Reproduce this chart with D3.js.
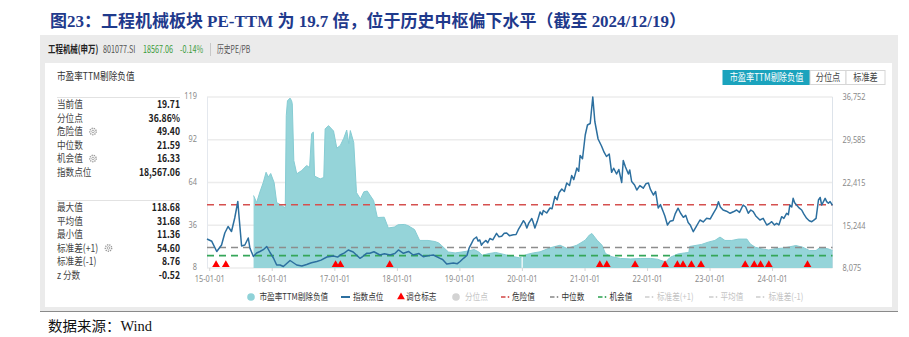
<!DOCTYPE html>
<html><head><meta charset="utf-8">
<script src="https://cdn.jsdelivr.net/npm/d3@7"></script>
<style>body{margin:0;background:#fff;} svg{display:block;font-family:"Noto Sans CJK SC","Noto Sans",sans-serif;}</style>
</head><body><svg id="c" width="909" height="337"></svg>
<script>
// ---------------- DATA ----------------
const titleText = "图23：工程机械板块 PE-TTM 为 19.7 倍，位于历史中枢偏下水平（截至 2024/12/19）";
const sourceText = "数据来源：Wind";
const headerName = "工程机械(申万)";
const headerCode = "801077.SI";
const headerPrice = "18567.06";
const headerChange = "-0.14%";
const headerLink = "历史PE/PB";
const panelTitle = "市盈率TTM剔除负值";
const buttonLabels = ["市盈率TTM剔除负值", "分位点", "标准差"];

const statLabels1 = ["当前值", "分位点", "危险值", "中位数", "机会值", "指数点位"];
const statValues1 = ["19.71", "36.86%", "49.40", "21.59", "16.33", "18,567.06"];
const statLabels2 = ["最大值", "平均值", "最小值", "标准差(+1)", "标准差(-1)", "z 分数"];
const statValues2 = ["118.68", "31.68", "11.36", "54.60", "8.76", "-0.52"];

const leftTickLabels = ["8", "36", "64", "92", "119"];
const rightTickLabels = ["8,075", "15,244", "22,415", "29,585", "36,752"];
const xTickDates = ["2015-01-01","2016-01-01","2017-01-01","2018-01-01","2019-01-01","2020-01-01","2021-01-01","2022-01-01","2023-01-01","2024-01-01"];
const xTickLabels = ["15-01-01","16-01-01","17-01-01","18-01-01","19-01-01","20-01-01","21-01-01","22-01-01","23-01-01","24-01-01"];

const dangerValue = 49.40;
const medianValue = 21.59;
const chanceValue = 16.33;

const indexDates = [
"2014-12-19","2015-01-16","2015-02-14","2015-03-14","2015-04-02","2015-04-21","2015-05-11","2015-05-30","2015-06-17","2015-06-25",
"2015-07-09","2015-07-28","2015-08-17","2015-08-27","2015-09-16","2015-10-05","2015-10-24","2015-11-13","2015-12-03","2015-12-22",
"2016-01-11","2016-01-30","2016-02-19","2016-03-09","2016-04-17","2016-05-26","2016-06-25","2016-07-23","2016-08-20","2016-09-20",
"2016-10-15","2016-11-18","2016-12-27","2017-01-20","2017-02-04","2017-03-01","2017-03-23","2017-04-21","2017-05-30","2017-06-15",
"2017-07-08","2017-07-27","2017-08-20","2017-09-24","2017-10-20","2017-11-22","2017-12-20","2018-01-10","2018-02-08","2018-03-10",
"2018-04-06","2018-05-10","2018-06-04","2018-07-05","2018-08-02","2018-09-10","2018-09-25","2018-10-19","2018-11-27","2018-12-20",
"2019-01-05","2019-01-25","2019-02-14","2019-02-28","2019-03-13","2019-03-25","2019-04-11","2019-04-20","2019-04-30","2019-05-10",
"2019-05-19","2019-06-05","2019-06-15","2019-06-28","2019-07-15","2019-08-06","2019-08-20","2019-09-05","2019-09-20","2019-10-04",
"2019-10-20","2019-11-12","2019-11-28","2019-12-11","2019-12-25","2020-01-10","2020-01-20","2020-01-30","2020-02-10","2020-02-28",
"2020-03-05","2020-03-17","2020-03-31","2020-04-16","2020-04-28","2020-05-05","2020-05-25","2020-06-13","2020-06-25","2020-07-12",
"2020-07-25","2020-08-05","2020-08-21","2020-09-05","2020-09-19","2020-10-05","2020-10-18","2020-10-30","2020-11-17","2020-11-28",
"2020-12-06","2020-12-20","2021-01-05","2021-01-18","2021-02-03","2021-02-18","2021-03-02","2021-03-21","2021-04-10","2021-04-25",
"2021-05-09","2021-05-25","2021-06-08","2021-06-20","2021-07-07","2021-07-20","2021-08-06","2021-08-15","2021-08-28","2021-09-14",
"2021-09-22","2021-10-03","2021-10-20","2021-11-02","2021-11-20","2021-12-10","2021-12-25","2022-01-09","2022-01-20","2022-02-07",
"2022-02-20","2022-03-07","2022-03-20","2022-04-05","2022-04-15","2022-04-30","2022-05-15","2022-06-02","2022-06-15","2022-07-01",
"2022-07-15","2022-08-01","2022-08-15","2022-08-29","2022-09-10","2022-09-28","2022-10-15","2022-11-06","2022-11-25","2022-12-15",
"2023-01-05","2023-01-23","2023-02-10","2023-02-22","2023-03-05","2023-03-21","2023-04-10","2023-05-01","2023-05-20","2023-06-08",
"2023-06-25","2023-07-16","2023-07-31","2023-08-15","2023-08-30","2023-09-13","2023-09-28","2023-10-22","2023-11-10","2023-12-01",
"2023-12-15","2023-12-30","2024-01-15","2024-01-28","2024-02-10","2024-02-26","2024-03-10","2024-03-26","2024-04-05","2024-04-14",
"2024-04-25","2024-05-03","2024-05-12","2024-05-23","2024-06-05","2024-06-22","2024-07-05","2024-07-21","2024-08-05","2024-08-20",
"2024-09-01","2024-09-14","2024-09-28","2024-10-08","2024-10-17","2024-11-06","2024-11-15","2024-11-25","2024-12-05","2024-12-19"];
const indexValues = [
12938,12553,10842,11932,13945,15035,14196,16460,19227,16410,
11764,11932,13106,11379,10004,10591,10842,11144,11681,10674,
9752,8578,8578,8327,9333,8578,8400,8662,8950,9165,
9400,9920,10087,9900,10255,10600,11094,10758,9702,10000,
10540,10540,10800,10255,10450,10255,10500,11094,10540,10850,
10255,10500,9970,10150,10255,9702,9500,8746,8914,8800,
9165,9700,10171,11500,12217,12900,13274,12600,12771,11900,
12268,12700,12300,13022,12800,13894,13300,13391,13900,13945,
13500,13659,13700,14498,15200,16007,15600,14783,15600,16376,
15900,14783,15900,17466,17000,17718,17300,18137,18000,20066,
19500,20700,21323,20900,22330,21900,23587,22900,24845,24300,
26941,26400,30379,32056,32308,36752,32643,29708,28534,27500,
26774,27200,24124,24800,23839,24600,22413,26103,25000,23839,
24500,22581,22000,21156,21900,21457,22200,22330,21300,20317,
20900,18137,18700,17550,16800,15286,15900,16041,17200,18103,
17300,16577,16900,15705,15300,14163,15000,16125,15800,16410,
16300,17248,18100,19194,18300,17802,17600,17248,17500,17802,
17400,18640,18300,17248,17800,17517,16800,16125,16400,15286,
15500,15840,15300,15571,15300,16678,16400,17248,17000,18640,
18300,19764,19000,18640,18200,17802,17100,16410,16000,15840,
16100,16410,19479,19900,18640,19764,19200,18925,19200,18567];

const peDates = ["2015-09-17","2015-10-05","2015-10-24","2015-11-13","2015-11-29","2015-12-12","2015-12-26","2016-01-15","2016-01-30","2016-02-29",
"2016-03-20","2016-03-26","2016-04-02","2016-04-17","2016-04-26","2016-04-30","2016-05-09","2016-05-26","2016-06-24","2016-07-23",
"2016-08-09","2016-08-21","2016-08-31","2016-09-07","2016-10-10","2016-10-31","2016-11-08","2016-11-28","2016-12-27","2017-01-15",
"2017-02-04","2017-02-24","2017-03-14","2017-03-26","2017-04-04","2017-04-24","2017-05-10","2017-06-02","2017-06-22","2017-07-12",
"2017-07-31","2017-08-18","2017-09-09","2017-10-19","2017-11-12","2017-12-17","2018-01-08","2018-02-14","2018-03-06","2018-04-14",
"2018-05-14","2018-07-02","2018-08-11","2018-09-02","2018-09-19","2018-10-29","2018-12-07","2019-01-16","2019-02-24","2019-03-28",
"2019-04-24","2019-05-14","2019-06-23","2019-08-01","2019-09-30","2019-11-08","2019-12-18","2019-12-30","2020-01-02","2020-01-06",
"2020-01-30","2020-03-07","2020-04-16","2020-06-13","2020-08-11","2020-09-20","2020-11-17","2021-01-05","2021-01-29","2021-02-13",
"2021-03-15","2021-04-13","2021-05-03","2021-06-11","2021-07-30","2021-09-27","2021-11-25","2022-01-22","2022-03-03","2022-03-23",
"2022-04-22","2022-05-02","2022-05-21","2022-06-30","2022-08-08","2022-09-02","2022-09-07","2022-11-15","2022-12-24","2023-02-01",
"2023-03-03","2023-04-01","2023-05-11","2023-06-19","2023-08-07","2023-08-27","2023-09-25","2023-11-03","2023-12-13","2024-01-21",
"2024-03-01","2024-04-10","2024-05-19","2024-06-28","2024-08-06","2024-09-14","2024-10-06","2024-11-22","2024-12-19"];
const peValues = [55.4,50.8,57.7,64.0,70.5,67.4,69.7,63.8,50.8,48.9,
47.3,107.3,117.0,118.68,117.0,115.0,78.1,69.5,71.6,74.9,
73.6,95.6,96.6,68.0,66.2,67.1,98.7,100.8,97.3,86.2,
87.8,92.4,97.9,89.1,97.6,89.8,57.3,53.2,57.8,58.3,
55.1,52.1,41.1,41.3,34.3,34.9,36.4,36.6,35.9,33.3,
26.2,26.2,25.5,24.6,22.9,18.7,18.1,18.7,19.4,20.3,
18.7,16.6,17.7,18.4,16.8,15.8,14.9,15.3,null,16.0,
17.1,18.1,18.8,21.4,23.1,21.0,23.1,26.4,29.7,30.7,
26.4,23.1,17.7,15.6,14.5,14.2,14.5,14.5,14.0,13.2,
12.2,13.8,15.5,17.4,18.1,18.4,22.3,23.6,25.1,26.2,
28.4,26.2,26.2,27.1,27.1,23.9,21.8,20.7,20.0,20.9,
21.2,22.0,22.9,21.8,19.7,19.7,21.6,20.8,19.71];

const signalDates = ["2015-02-10","2015-04-08","2017-01-08","2017-02-05","2017-11-20","2021-03-31","2021-05-11","2021-10-23",
"2022-04-16","2022-06-27","2022-07-30","2022-09-17","2022-11-12","2023-07-28","2023-09-19","2023-10-26","2023-12-13","2024-07-26"];

const legendLabels = ["市盈率TTM剔除负值","指数点位","调仓标志","分位点","危险值","中位数","机会值","标准差(+1)","平均值","标准差(-1)"];

// ---------------- DRAW ----------------
const svg = d3.select("#c");
const parse = d3.timeParse("%Y-%m-%d");
const SX = 0.82; // horizontal condensation of the UI screenshot text

function ctext(parent, x, y, str, o) {
  o = o || {};
  const g = parent.append("g").attr("transform", `translate(${x},${y}) scale(${o.sx || SX},1)`);
  const t = g.append("text").attr("x", 0).attr("y", 0)
    .attr("font-size", o.size || 10)
    .attr("fill", o.fill || "#333")
    .attr("font-weight", o.weight || "normal")
    .attr("text-anchor", o.anchor || "start")
    .text(str);
  if (o.family) t.attr("font-family", o.family);
  return t;
}

// title
svg.append("text").attr("x", 50).attr("y", 27)
  .attr("font-family", '"Liberation Serif","Noto Sans CJK SC",serif')
  .attr("font-size", 17).attr("font-weight", "bold").attr("fill", "#1f3a8c")
  .attr("textLength", 636).attr("lengthAdjust", "spacingAndGlyphs")
  .text(titleText);

// frame
svg.append("rect").attr("x", 40).attr("y", 35).attr("width", 858).attr("height", 276).attr("fill", "#ebebeb");
svg.append("rect").attr("x", 45).attr("y", 63).attr("width", 847).attr("height", 244).attr("fill", "#fff");
svg.append("line").attr("x1", 40).attr("x2", 898).attr("y1", 311.5).attr("y2", 311.5).attr("stroke", "#8a8a8a").attr("stroke-width", 1);

// header
ctext(svg, 48, 53, headerName, {size: 10.5, weight: "bold", fill: "#222", sx: 0.71});
ctext(svg, 103, 53, headerCode, {size: 10, fill: "#555", sx: 0.72});
ctext(svg, 143, 53, headerPrice, {size: 10, fill: "#3d9b3d", sx: 0.72});
ctext(svg, 180, 53, headerChange, {size: 10, fill: "#3d9b3d", sx: 0.72});
svg.append("line").attr("x1", 210.5).attr("x2", 210.5).attr("y1", 43).attr("y2", 56).attr("stroke", "#c8c8c8");
ctext(svg, 217, 53, headerLink, {size: 10, fill: "#555", sx: 0.68});

// panel title
ctext(svg, 57, 80, panelTitle, {size: 10.5, fill: "#333"});

// buttons
const btnX = [723, 810, 846], btnW = [87, 36, 39];
buttonLabels.forEach((b, i) => {
  svg.append("rect").attr("x", btnX[i]).attr("y", 70.5).attr("width", btnW[i]).attr("height", 14)
    .attr("fill", i === 0 ? "#1ba3bd" : "#fff").attr("stroke", i === 0 ? "#1ba3bd" : "#d6d6d6");
  ctext(svg, btnX[i] + btnW[i] / 2, 81, b, {size: 10, anchor: "middle", fill: i === 0 ? "#fff" : "#444"});
});

// stats table
function gear(x, y) {
  svg.append("circle").attr("cx", x).attr("cy", y).attr("r", 3.2).attr("fill", "none")
    .attr("stroke", "#999").attr("stroke-width", 1.4).attr("stroke-dasharray", "1.3,0.9");
  svg.append("circle").attr("cx", x).attr("cy", y).attr("r", 1.3).attr("fill", "none").attr("stroke", "#999").attr("stroke-width", 0.8);
}
svg.append("line").attr("x1", 57).attr("x2", 180).attr("y1", 97.5).attr("y2", 97.5).attr("stroke", "#e2e2e2");
svg.append("line").attr("x1", 57).attr("x2", 180).attr("y1", 200.5).attr("y2", 200.5).attr("stroke", "#e2e2e2");
const rowY1 = [104.5, 118, 131.5, 145, 158.5, 172];
const rowY2 = [207.5, 221, 234.5, 248, 261.5, 275];
statLabels1.forEach((l, i) => {
  ctext(svg, 57, rowY1[i] + 3.5, l, {size: 10.5, fill: "#444"});
  ctext(svg, 180, rowY1[i] + 3.5, statValues1[i], {size: 10.5, fill: "#222", weight: "bold", anchor: "end"});
});
statLabels2.forEach((l, i) => {
  ctext(svg, 57, rowY2[i] + 3.5, l, {size: 10.5, fill: "#444"});
  ctext(svg, 180, rowY2[i] + 3.5, statValues2[i], {size: 10.5, fill: "#222", weight: "bold", anchor: "end"});
});
gear(93, rowY1[2]); gear(93, rowY1[4]); gear(108.5, rowY2[3]);

// scales
const plotL = 207, plotR = 832.5, plotT = 97, plotB = 268;
const x = d3.scaleTime().domain([parse("2014-12-19"), parse("2024-12-19")]).range([plotL, plotR]);
const yL = d3.scaleLinear().domain([8.3, 119.4]).range([plotB, plotT]);
const yR = d3.scaleLinear().domain([8075, 36752]).range([plotB, plotT]);
const lTicks = d3.range(5).map(i => yL.domain()[0] + i * (yL.domain()[1] - yL.domain()[0]) / 4);
const rTicks = d3.range(5).map(i => yR.domain()[0] + i * (yR.domain()[1] - yR.domain()[0]) / 4);

// grid
svg.append("g").selectAll("line").data(lTicks).join("line")
  .attr("x1", plotL).attr("x2", plotR).attr("y1", d => yL(d)).attr("y2", d => yL(d))
  .attr("stroke", "#ececec").attr("stroke-width", 1.6);
svg.append("line").attr("x1", plotL + 0.5).attr("x2", plotL + 0.5).attr("y1", plotT).attr("y2", plotB).attr("stroke", "#e4e8ee");
svg.append("line").attr("x1", plotR).attr("x2", plotR).attr("y1", plotT).attr("y2", plotB).attr("stroke", "#dde3ea");

// axes
const axL = svg.append("g").attr("transform", `translate(${plotL},0)`)
  .call(d3.axisLeft(yL).tickValues(lTicks).tickSize(0).tickPadding(9).tickFormat((d, i) => leftTickLabels[i]));
const axR = svg.append("g").attr("transform", `translate(${plotR},0)`)
  .call(d3.axisRight(yR).tickValues(rTicks).tickSize(0).tickPadding(10).tickFormat((d, i) => rightTickLabels[i]));
const axB = svg.append("g").attr("transform", `translate(0,${plotB})`)
  .call(d3.axisBottom(x).tickValues(xTickDates.map(parse)).tickSize(3).tickPadding(5).tickFormat((d, i) => xTickLabels[i]));
[axL, axR, axB].forEach(a => {
  a.select(".domain").remove();
  a.selectAll("text").attr("fill", "#8a8a8a").attr("font-size", 9)
    .attr("font-family", '"Noto Sans","Noto Sans CJK SC",sans-serif');
  a.selectAll("line").attr("stroke", "#d5d5d5");
});
axL.selectAll("text").attr("transform", `scale(${SX},1)`).attr("x", -10 / SX).attr("dy", "0.2em");
axR.selectAll("text").attr("transform", `scale(${SX},1)`).attr("x", 10 / SX);
axB.selectAll("text").attr("transform", `scale(${SX},1)`);

// PE area
const peData = peDates.map((d, i) => ({date: parse(d), v: peValues[i]}));
const area = d3.area().defined(d => d.v != null).x(d => x(d.date)).y0(plotB).y1(d => yL(d.v));
svg.append("path").datum(peData).attr("d", area).attr("fill", "#95d4d9");
const peLine = d3.line().defined(d => d.v != null).x(d => x(d.date)).y(d => yL(d.v));
svg.append("path").datum(peData).attr("d", peLine).attr("fill", "none").attr("stroke", "#86ccd3").attr("stroke-width", 1);

// reference lines
const refs = [{v: dangerValue, c: "#d5504f"}, {v: medianValue, c: "#8d8d8d"}, {v: chanceValue, c: "#35a659"}];
svg.append("g").selectAll("line").data(refs).join("line")
  .attr("x1", plotL).attr("x2", plotR).attr("y1", d => yL(d.v)).attr("y2", d => yL(d.v))
  .attr("stroke", d => d.c).attr("stroke-width", 1.6).attr("stroke-dasharray", "7,5");

// index line
const idxData = indexDates.map((d, i) => ({date: parse(d), v: indexValues[i]}));
svg.append("path").datum(idxData)
  .attr("d", d3.line().x(d => x(d.date)).y(d => yR(d.v)))
  .attr("fill", "none").attr("stroke", "#2c6f9f").attr("stroke-width", 1.5).attr("stroke-linejoin", "round");

// signals
svg.append("g").selectAll("path").data(signalDates).join("path")
  .attr("transform", d => `translate(${x(parse(d))},${plotB - 3.3})`)
  .attr("d", d3.symbol(d3.symbolTriangle, 26)).attr("fill", "#f00");

// legend
const ly = 297;
const lx = [251, 341, 401, 456, 501, 550, 598, 645, 709, 756];
const tx = [259.5, 353, 406, 465, 512, 561.5, 609.5, 657, 720.5, 768.5];
const active = [true, true, true, false, true, true, true, false, false, false];
const dashCol = {4: "#d5504f", 5: "#8d8d8d", 6: "#35a659", 7: "#d0d0d0", 8: "#d0d0d0", 9: "#d0d0d0"};
legendLabels.forEach((l, i) => {
  if (i === 0) svg.append("circle").attr("cx", lx[i]).attr("cy", ly).attr("r", 3.8).attr("fill", "#8fd2d8");
  else if (i === 1) svg.append("line").attr("x1", lx[i]).attr("x2", lx[i] + 9).attr("y1", ly).attr("y2", ly).attr("stroke", "#2c6f9f").attr("stroke-width", 2);
  else if (i === 2) svg.append("path").attr("transform", `translate(${lx[i]},${ly})`).attr("d", d3.symbol(d3.symbolTriangle, 26)).attr("fill", "#f00");
  else if (i === 3) svg.append("circle").attr("cx", lx[i]).attr("cy", ly).attr("r", 3.8).attr("fill", "#d3d3d3");
  else {
    svg.append("line").attr("x1", lx[i]).attr("x2", lx[i] + 4.5).attr("y1", ly).attr("y2", ly).attr("stroke", dashCol[i]).attr("stroke-width", 1.6);
    svg.append("circle").attr("cx", lx[i] + 7.5).attr("cy", ly).attr("r", 0.9).attr("fill", dashCol[i]);
  }
  ctext(svg, tx[i], ly + 3.2, l, {size: 9.3, fill: active[i] ? "#333" : "#c4c4c4"});
});

// source
svg.append("text").attr("x", 48).attr("y", 331)
  .attr("font-family", '"Liberation Serif","Noto Sans CJK SC",serif')
  .attr("font-size", 14).attr("fill", "#111")
  .attr("textLength", 104).attr("lengthAdjust", "spacingAndGlyphs").text(sourceText);
</script></body></html>
